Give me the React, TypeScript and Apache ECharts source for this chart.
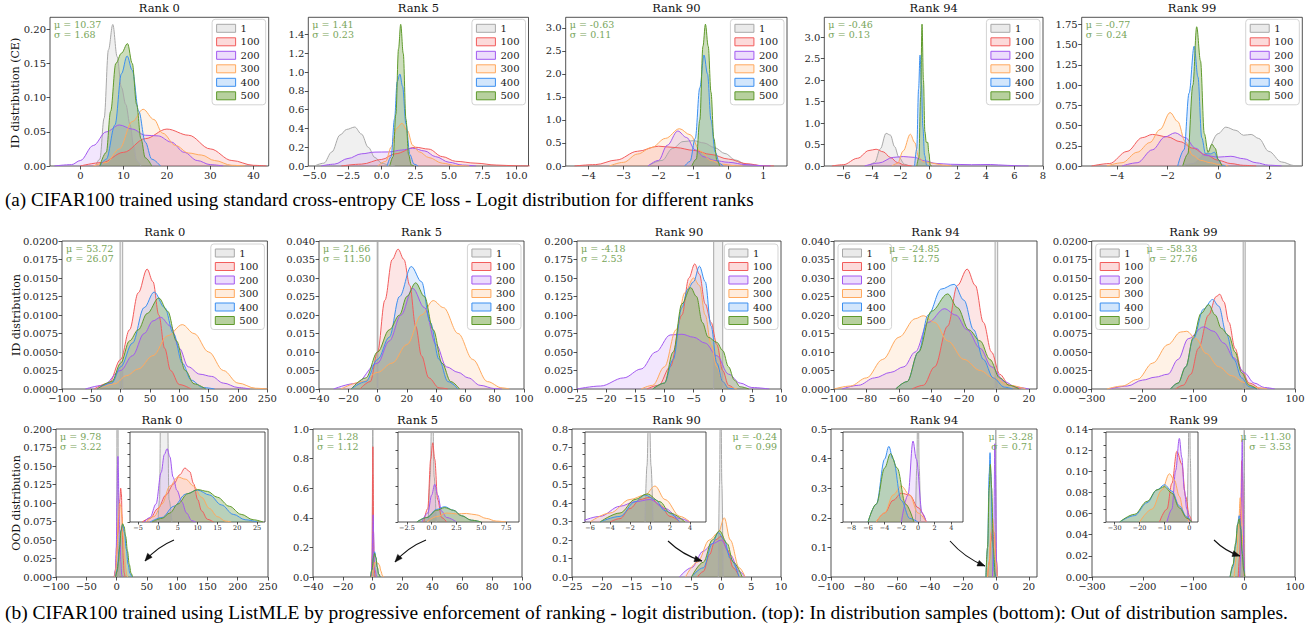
import React, { useEffect, useRef } from 'react';
import * as echarts from 'echarts';

type P = [number, number];

const NAMES = ['1', '100', '200', '300', '400', '500'];
const TITLES = ['Rank 0', 'Rank 5', 'Rank 90', 'Rank 94', 'Rank 99'];

// ---------- (a) CE, ID logits ----------
const CE_RANK0: P[][] = [
  [[3.5, 0], [4.5, 0.01], [5.5, 0.07], [6.5, 0.17], [7.5, 0.207], [8.5, 0.16], [9.5, 0.115], [10.5, 0.09], [11.5, 0.06], [12.3, 0.03], [13, 0.008], [14, 0]],
  [[0, 0], [5, 0.005], [10, 0.02], [15, 0.04], [20, 0.054], [25, 0.045], [30, 0.025], [35, 0.008], [40, 0.001], [43, 0]],
  [[-6, 0], [-2, 0.002], [0, 0.008], [3, 0.03], [6, 0.05], [9, 0.06], [12, 0.054], [15, 0.045], [18, 0.044], [21, 0.035], [24, 0.02], [27, 0.008], [30, 0.002], [33, 0]],
  [[3, 0], [6, 0.005], [9, 0.025], [12, 0.065], [14.5, 0.083], [17, 0.068], [19, 0.048], [22, 0.03], [25, 0.019], [28, 0.016], [31, 0.008], [35, 0.001], [38, 0]],
  [[4.5, 0], [6, 0.01], [8, 0.06], [9.5, 0.135], [10.8, 0.161], [12, 0.14], [13.5, 0.08], [15, 0.035], [16.5, 0.01], [18.5, 0]],
  [[4.5, 0], [6, 0.02], [7, 0.08], [8.2, 0.15], [9.5, 0.165], [10.9, 0.179], [12, 0.15], [13, 0.09], [14, 0.04], [15, 0.012], [16.5, 0]],
];
const CE_RANK5: P[][] = [
  [[-5, 0], [-4.3, 0.03], [-3.7, 0.15], [-3.1, 0.33], [-2.6, 0.39], [-2.0, 0.415], [-1.5, 0.34], [-1.0, 0.2], [-0.5, 0.09], [0, 0.03], [0.6, 0.005], [1, 0]],
  [[-3, 0], [-1.5, 0.02], [0, 0.07], [1, 0.13], [2.5, 0.2], [3.5, 0.18], [4.5, 0.1], [5.5, 0.05], [7, 0.03], [8.5, 0.01], [10, 0.002], [11, 0]],
  [[-4.5, 0], [-3.5, 0.02], [-2.5, 0.08], [-1.5, 0.13], [-0.5, 0.148], [0.5, 0.15], [1.5, 0.17], [2.3, 0.19], [3.2, 0.16], [4, 0.1], [5, 0.04], [6, 0.01], [7, 0]],
  [[-0.3, 0], [0.3, 0.05], [0.7, 0.2], [1.1, 0.4], [1.5, 0.455], [1.9, 0.38], [2.3, 0.22], [2.8, 0.15], [3.5, 0.09], [4.5, 0.03], [5.5, 0.005], [6.5, 0]],
  [[0.4, 0], [0.7, 0.1], [0.95, 0.5], [1.15, 0.9], [1.35, 0.98], [1.55, 0.85], [1.8, 0.45], [2.1, 0.12], [2.4, 0.02], [2.7, 0]],
  [[0.6, 0], [0.85, 0.1], [1.05, 0.55], [1.25, 1.25], [1.41, 1.51], [1.6, 1.2], [1.8, 0.5], [2.0, 0.12], [2.2, 0.01], [2.4, 0]],
];
const CE_RANK90: P[][] = [
  [[-2.3, 0], [-1.9, 0.12], [-1.6, 0.38], [-1.3, 0.53], [-1.0, 0.55], [-0.7, 0.5], [-0.4, 0.4], [-0.1, 0.27], [0.2, 0.13], [0.5, 0.04], [0.9, 0]],
  [[-4.4, 0], [-3.8, 0.03], [-3.2, 0.13], [-2.6, 0.32], [-2.0, 0.43], [-1.5, 0.4], [-1.0, 0.34], [-0.5, 0.25], [0, 0.15], [0.5, 0.05], [1.0, 0.005], [1.3, 0]],
  [[-2.3, 0], [-2.0, 0.12], [-1.75, 0.45], [-1.45, 0.76], [-1.2, 0.62], [-0.95, 0.35], [-0.7, 0.2], [-0.4, 0.12], [0, 0.08], [0.5, 0.03], [1.0, 0.003], [1.2, 0]],
  [[-3.4, 0], [-3.0, 0.08], [-2.6, 0.26], [-2.2, 0.4], [-1.8, 0.6], [-1.4, 0.81], [-1.1, 0.68], [-0.8, 0.32], [-0.5, 0.12], [-0.2, 0.04], [0.2, 0.005], [0.4, 0]],
  [[-1.25, 0], [-1.1, 0.1], [-0.95, 0.6], [-0.82, 1.7], [-0.7, 2.41], [-0.6, 2.0], [-0.5, 1.0], [-0.38, 0.3], [-0.25, 0.05], [-0.15, 0]],
  [[-1.05, 0], [-0.92, 0.15], [-0.82, 1.0], [-0.73, 2.6], [-0.66, 3.08], [-0.58, 2.6], [-0.5, 1.6], [-0.42, 0.6], [-0.33, 0.12], [-0.25, 0]],
];
const CE_RANK94: P[][] = [
  [[-4.2, 0], [-3.8, 0.08], [-3.4, 0.4], [-3.0, 0.76], [-2.7, 0.72], [-2.4, 0.45], [-2.1, 0.2], [-1.7, 0.04], [-1.4, 0]],
  [[-6.8, 0], [-6, 0.03], [-5, 0.18], [-4.2, 0.36], [-3.7, 0.39], [-3.2, 0.33], [-2.7, 0.2], [-2.2, 0.08], [-1.7, 0.02], [-1.2, 0]],
  [[-4.5, 0], [-3.5, 0.07], [-2.5, 0.2], [-1.8, 0.22], [-1.0, 0.2], [-0.3, 0.12], [0.5, 0.06], [1.5, 0.04], [3, 0.03], [4.3, 0.035], [5.5, 0.015], [6.5, 0.002], [7, 0]],
  [[-2.6, 0], [-2.2, 0.06], [-1.8, 0.35], [-1.3, 0.74], [-1.0, 0.55], [-0.7, 0.2], [-0.4, 0.1], [0, 0.08], [0.5, 0.05], [1, 0.02], [1.6, 0]],
  [[-1.0, 0], [-0.85, 0.4], [-0.72, 1.8], [-0.62, 2.58], [-0.52, 1.9], [-0.42, 0.9], [-0.3, 0.25], [-0.15, 0.02], [0, 0]],
  [[-0.85, 0], [-0.7, 0.2], [-0.58, 1.6], [-0.48, 3.3], [-0.38, 2.0], [-0.28, 0.8], [-0.18, 0.55], [-0.08, 0.55], [0.0, 0.3], [0.1, 0.02], [0.2, 0]],
];
const CE_RANK99: P[][] = [
  [[-1.5, 0], [-1.0, 0.03], [-0.5, 0.15], [0, 0.4], [0.3, 0.48], [0.7, 0.44], [1.0, 0.38], [1.3, 0.39], [1.6, 0.34], [2.0, 0.18], [2.5, 0.05], [3.0, 0.005], [3.3, 0]],
  [[-5, 0], [-4.3, 0.03], [-3.6, 0.18], [-3.0, 0.35], [-2.6, 0.39], [-2.0, 0.36], [-1.5, 0.3], [-1.0, 0.22], [-0.5, 0.14], [0, 0.07], [0.5, 0.03], [1.0, 0.008], [1.5, 0]],
  [[-3.8, 0], [-3.2, 0.04], [-2.6, 0.2], [-2.1, 0.36], [-1.7, 0.41], [-1.3, 0.35], [-0.9, 0.22], [-0.5, 0.13], [0, 0.11], [0.5, 0.12], [1.0, 0.09], [1.5, 0.04], [2.0, 0.01], [2.5, 0]],
  [[-4.4, 0], [-3.8, 0.04], [-3.2, 0.17], [-2.7, 0.29], [-2.3, 0.45], [-1.9, 0.66], [-1.6, 0.55], [-1.3, 0.3], [-1.0, 0.13], [-0.7, 0.07], [-0.3, 0.04], [0, 0.02], [0.4, 0]],
  [[-1.6, 0], [-1.35, 0.2], [-1.15, 0.9], [-0.95, 1.48], [-0.8, 1.1], [-0.65, 0.35], [-0.5, 0.15], [-0.3, 0.15], [-0.15, 0.17], [0, 0.08], [0.15, 0.01], [0.3, 0]],
  [[-1.4, 0], [-1.2, 0.15], [-1.0, 1.0], [-0.85, 1.72], [-0.7, 1.3], [-0.55, 0.4], [-0.4, 0.17], [-0.25, 0.27], [-0.12, 0.22], [0, 0.08], [0.15, 0]],
];
const CE_MU = ['10.37', '1.41', '-0.63', '-0.46', '-0.77'];
const CE_SIGMA = ['1.68', '0.23', '0.11', '0.13', '0.24'];
const CE_X_RANGE: P[] = [[-7, 43.5], [-5.45, 10.9], [-4.65, 1.67], [-7.33, 8.0], [-5.39, 3.32]];
const CE_Y_MAX = [0.2175, 1.585, 3.23, 3.46, 1.837];
const CE_X_TICKS = [[0, 10, 20, 30, 40], [-5, -2.5, 0, 2.5, 5, 7.5, 10], [-4, -3, -2, -1, 0, 1], [-6, -4, -2, 0, 2, 4, 6, 8], [-4, -2, 0, 2]];
const CE_Y_TICKS = [
  [0, 0.05, 0.1, 0.15, 0.2],
  [0, 0.2, 0.4, 0.6, 0.8, 1.0, 1.2, 1.4],
  [0, 0.5, 1.0, 1.5, 2.0, 2.5, 3.0],
  [0, 0.5, 1.0, 1.5, 2.0, 2.5, 3.0],
  [0, 0.25, 0.5, 0.75, 1.0, 1.25, 1.5, 1.75],
];
const CE_X_DEC = [0, 1, 0, 0, 0];
const CE_Y_DEC = [2, 1, 1, 1, 2];

// ---------- (b top) ListMLE, ID logits ----------
const ID_RANK0: P[][] = [
  [[-1, 0], [-1, 1], [3.4, 1], [3.4, 0]],
  [[-45, 0], [-20, 0.0008], [0, 0.004], [15, 0.008], [30, 0.013], [45, 0.0162], [55, 0.0145], [65, 0.01], [75, 0.0055], [85, 0.0025], [100, 0.0006], [120, 0]],
  [[-60, 0], [-30, 0.0005], [0, 0.0025], [20, 0.0045], [40, 0.0075], [55, 0.0092], [68, 0.0097], [85, 0.0085], [100, 0.0055], [115, 0.003], [135, 0.002], [155, 0.0017], [175, 0.0008], [200, 0.0002], [220, 0]],
  [[-40, 0], [-10, 0.0007], [10, 0.0018], [30, 0.0027], [55, 0.0045], [80, 0.0072], [105, 0.0087], [125, 0.0075], [150, 0.005], [175, 0.0025], [200, 0.0008], [230, 0.0001], [250, 0]],
  [[-40, 0], [-15, 0.0008], [0, 0.003], [20, 0.0062], [40, 0.011], [57, 0.0131], [75, 0.011], [90, 0.0075], [105, 0.0035], [120, 0.0012], [140, 0.0002], [160, 0]],
  [[-40, 0], [-15, 0.001], [0, 0.0035], [15, 0.0065], [30, 0.008], [45, 0.0102], [65, 0.0123], [80, 0.0105], [95, 0.0065], [110, 0.0025], [125, 0.0007], [145, 0]],
];
const ID_RANK5: P[][] = [
  [[-0.25, 0], [-0.25, 1], [0.25, 1], [0.25, 0]],
  [[-12, 0], [-5, 0.002], [0, 0.01], [5, 0.024], [10, 0.035], [14, 0.0378], [18, 0.035], [22, 0.028], [26, 0.017], [30, 0.009], [35, 0.003], [42, 0.0003], [48, 0]],
  [[-30, 0], [-15, 0.0015], [0, 0.007], [8, 0.013], [16, 0.02], [24, 0.0272], [32, 0.022], [40, 0.012], [47, 0.006], [55, 0.0045], [62, 0.003], [70, 0.001], [80, 0.0001], [85, 0]],
  [[-25, 0], [-10, 0.002], [0, 0.0045], [10, 0.007], [20, 0.012], [30, 0.02], [38, 0.0239], [45, 0.022], [55, 0.015], [65, 0.008], [75, 0.002], [85, 0.0003], [90, 0]],
  [[-18, 0], [-8, 0.002], [0, 0.008], [8, 0.014], [15, 0.025], [23, 0.0331], [30, 0.029], [36, 0.018], [42, 0.008], [48, 0.002], [55, 0]],
  [[-18, 0], [-8, 0.003], [0, 0.01], [8, 0.016], [15, 0.02], [20, 0.025], [26, 0.0287], [32, 0.025], [38, 0.016], [44, 0.007], [50, 0.002], [56, 0]],
];
const ID_RANK90: P[][] = [
  [[-1.55, 0], [-1.55, 1], [0, 1], [0, 0]],
  [[-13, 0], [-11, 0.005], [-9, 0.03], [-7, 0.1], [-5.8, 0.15], [-4.8, 0.169], [-4, 0.155], [-3, 0.115], [-2, 0.09], [-1, 0.06], [0, 0.025], [1, 0.005], [2, 0]],
  [[-25, 0], [-21, 0.004], [-17, 0.015], [-14, 0.027], [-11.5, 0.05], [-9, 0.073], [-7, 0.074], [-5, 0.07], [-3, 0.062], [-1, 0.045], [1, 0.02], [3, 0.008], [5, 0.002], [8, 0]],
  [[-14, 0], [-12, 0.005], [-10, 0.03], [-8, 0.08], [-6.5, 0.13], [-5, 0.15], [-4, 0.14], [-3, 0.1], [-2, 0.06], [-1, 0.03], [0, 0.01], [1, 0.002], [2.5, 0]],
  [[-12, 0], [-10, 0.008], [-8.5, 0.04], [-7, 0.11], [-6, 0.135], [-5, 0.145], [-4, 0.166], [-3, 0.145], [-2, 0.085], [-1, 0.035], [0, 0.01], [1, 0.001], [2, 0]],
  [[-12, 0], [-10, 0.008], [-8.5, 0.05], [-7, 0.115], [-5.5, 0.137], [-4.5, 0.125], [-3.5, 0.09], [-2.5, 0.07], [-1, 0.063], [0, 0.052], [1, 0.03], [2, 0.012], [3, 0.003], [4.5, 0]],
];
const ID_RANK94: P[][] = [
  [[-0.8, 0], [-0.8, 1], [0.8, 1], [0.8, 0]],
  [[-52, 0], [-45, 0.001], [-38, 0.006], [-30, 0.017], [-24, 0.028], [-18, 0.0324], [-13, 0.028], [-8, 0.018], [-3, 0.01], [2, 0.004], [8, 0.001], [15, 0]],
  [[-95, 0], [-85, 0.001], [-75, 0.003], [-65, 0.0045], [-57, 0.006], [-50, 0.01], [-42, 0.018], [-32, 0.0217], [-25, 0.02], [-18, 0.016], [-10, 0.011], [-3, 0.006], [5, 0.002], [12, 0.0005], [20, 0]],
  [[-100, 0], [-90, 0.0008], [-80, 0.003], [-70, 0.008], [-60, 0.014], [-50, 0.019], [-45, 0.0198], [-38, 0.018], [-30, 0.013], [-20, 0.008], [-10, 0.005], [-2, 0.003], [8, 0.001], [18, 0]],
  [[-62, 0], [-55, 0.002], [-48, 0.01], [-42, 0.02], [-34, 0.027], [-26, 0.0283], [-20, 0.024], [-14, 0.016], [-8, 0.008], [-2, 0.003], [5, 0.0005], [10, 0]],
  [[-62, 0], [-55, 0.002], [-48, 0.01], [-40, 0.021], [-30, 0.0257], [-24, 0.022], [-17, 0.016], [-10, 0.013], [-4, 0.008], [2, 0.003], [8, 0.001], [14, 0]],
];
const ID_RANK99: P[][] = [
  [[-2, 0], [-2, 1], [2, 1], [2, 0]],
  [[-135, 0], [-120, 0.0005], [-105, 0.002], [-90, 0.0055], [-70, 0.01], [-55, 0.0125], [-48, 0.0128], [-40, 0.0118], [-30, 0.009], [-18, 0.0055], [-5, 0.0025], [10, 0.0008], [30, 0]],
  [[-265, 0], [-230, 0.0004], [-200, 0.0012], [-175, 0.0016], [-150, 0.002], [-130, 0.004], [-110, 0.0068], [-80, 0.0084], [-60, 0.0078], [-40, 0.0062], [-20, 0.0042], [0, 0.0022], [20, 0.0008], [40, 0.0002], [60, 0]],
  [[-270, 0], [-240, 0.0004], [-210, 0.0013], [-180, 0.0035], [-150, 0.006], [-125, 0.0077], [-113, 0.0078], [-95, 0.0068], [-75, 0.0048], [-50, 0.003], [-25, 0.0018], [0, 0.0009], [25, 0.0002], [45, 0]],
  [[-145, 0], [-130, 0.0008], [-115, 0.003], [-100, 0.0068], [-80, 0.0108], [-62, 0.0121], [-50, 0.0112], [-35, 0.0075], [-20, 0.004], [-5, 0.0015], [10, 0.0003], [25, 0]],
  [[-145, 0], [-130, 0.0008], [-115, 0.003], [-100, 0.007], [-85, 0.0102], [-70, 0.0114], [-57, 0.01], [-45, 0.0082], [-30, 0.0072], [-18, 0.005], [-5, 0.0022], [10, 0.0005], [25, 0]],
];
const ID_MU = ['53.72', '21.66', '-4.18', '-24.85', '-58.33'];
const ID_SIGMA = ['26.07', '11.50', '2.53', '12.75', '27.76'];
const ID_X_RANGE: P[] = [[-100, 250], [-40, 100], [-25, 10], [-100, 25], [-300, 100]];
const ID_Y_MAX = [0.02, 0.04, 0.2, 0.04, 0.02];
const ID_X_TICKS = [
  [-100, -50, 0, 50, 100, 150, 200, 250],
  [-40, -20, 0, 20, 40, 60, 80, 100],
  [-25, -20, -15, -10, -5, 0, 5, 10],
  [-100, -80, -60, -40, -20, 0, 20],
  [-300, -200, -100, 0, 100],
];
const ID_Y_TICKS = [
  [0, 0.0025, 0.005, 0.0075, 0.01, 0.0125, 0.015, 0.0175, 0.02],
  [0, 0.005, 0.01, 0.015, 0.02, 0.025, 0.03, 0.035, 0.04],
  [0, 0.025, 0.05, 0.075, 0.1, 0.125, 0.15, 0.175, 0.2],
  [0, 0.005, 0.01, 0.015, 0.02, 0.025, 0.03, 0.035, 0.04],
  [0, 0.0025, 0.005, 0.0075, 0.01, 0.0125, 0.015, 0.0175, 0.02],
];
const ID_Y_DEC = [4, 3, 3, 3, 4];

// ---------- (b bottom) ListMLE, OOD logits ----------
const OOD_RANK0: P[][] = [
  [[0, 0], [0.4, 0.05], [0.7, 0.3], [2.3, 0.3], [2.8, 0.05], [3.5, 0]],
  [[-4, 0], [-2, 0.008], [0, 0.03], [2, 0.06], [4, 0.085], [5.5, 0.105], [6.8, 0.12], [8, 0.112], [9, 0.085], [10, 0.05], [11, 0.025], [12.5, 0.006], [14, 0]],
  [[-3.5, 0], [-2, 0.01], [-0.5, 0.04], [0.8, 0.11], [1.6, 0.15], [2.3, 0.163], [3.0, 0.145], [3.8, 0.1], [4.8, 0.07], [6, 0.045], [7.2, 0.02], [8.5, 0.003], [9.5, 0]],
  [[-3, 0], [-1, 0.012], [1, 0.04], [3, 0.08], [5, 0.1], [7, 0.095], [9, 0.08], [11, 0.055], [13, 0.03], [15, 0.012], [17, 0.002], [18.5, 0]],
  [[-2, 0], [1, 0.01], [4, 0.035], [7, 0.062], [10, 0.071], [13, 0.06], [16, 0.038], [19, 0.017], [22, 0.005], [25, 0]],
  [[-1.5, 0], [1, 0.008], [3, 0.02], [5, 0.04], [7.5, 0.063], [10, 0.072], [12.5, 0.068], [15, 0.055], [18, 0.035], [21, 0.017], [24, 0.005], [26.5, 0]],
];
const OOD_RANK5: P[][] = [
  [[-0.35, 0], [-0.15, 0.5], [0.05, 1.6], [0.25, 0.5], [0.45, 0]],
  [[-0.8, 0], [-0.4, 0.15], [-0.1, 0.7], [0.1, 0.88], [0.3, 0.7], [0.6, 0.25], [1, 0.05], [1.5, 0]],
  [[-1, 0], [-0.4, 0.1], [0, 0.3], [0.3, 0.42], [0.6, 0.3], [1.0, 0.12], [1.5, 0.05], [2.5, 0]],
  [[-0.5, 0], [0.5, 0.06], [1.5, 0.1], [2.5, 0.09], [3.5, 0.095], [4.5, 0.08], [5.5, 0.04], [6.5, 0.01], [7.5, 0]],
  [[-1.5, 0], [-0.5, 0.05], [0.5, 0.14], [1.3, 0.17], [2.2, 0.13], [3, 0.07], [4, 0.02], [5, 0]],
  [[-1.5, 0], [-0.5, 0.05], [0.5, 0.13], [1.3, 0.16], [2.2, 0.13], [3, 0.07], [4, 0.02], [5, 0]],
];
const OOD_RANK90: P[][] = [
  [[-0.5, 0], [-0.3, 0.5], [-0.1, 1.2], [0.1, 0.5], [0.3, 0]],
  [[-4, 0], [-3, 0.03], [-2, 0.12], [-1, 0.2], [0, 0.22], [1, 0.15], [2, 0.05], [3, 0]],
  [[-7, 0], [-5, 0.05], [-3, 0.14], [-1.5, 0.18], [0, 0.2], [1.5, 0.12], [3, 0.03], [4, 0]],
  [[-6, 0], [-4, 0.08], [-2, 0.2], [-0.5, 0.24], [0.5, 0.32], [1.5, 0.2], [3, 0.05], [4, 0]],
  [[-5, 0], [-3, 0.05], [-1.5, 0.18], [-0.5, 0.24], [0.5, 0.2], [1.5, 0.1], [3, 0]],
  [[-5, 0], [-3, 0.08], [-1.5, 0.2], [-0.3, 0.25], [1, 0.18], [2, 0.08], [3.5, 0]],
];
const OOD_RANK94: P[][] = [
  [[-0.3, 0], [-0.15, 0.3], [0, 0.8], [0.15, 0.3], [0.3, 0]],
  [[-5, 0], [-4, 0.05], [-3, 0.12], [-2, 0.16], [-1, 0.15], [0, 0.08], [1, 0]],
  [[-2, 0], [-1.2, 0.15], [-0.6, 0.45], [-0.2, 0.35], [0.5, 0.05], [1, 0]],
  [[-5, 0], [-4, 0.05], [-3, 0.15], [-2, 0.2], [-1, 0.15], [0, 0.05], [1, 0]],
  [[-6, 0], [-5, 0.1], [-4, 0.35], [-3.5, 0.42], [-3, 0.35], [-2, 0.12], [-1, 0.02], [0, 0]],
  [[-6, 0], [-5, 0.1], [-4, 0.3], [-3.3, 0.38], [-2.5, 0.3], [-1.5, 0.1], [-0.5, 0]],
];
const OOD_RANK99: P[][] = [
  [[-0.8, 0], [-0.4, 0.1], [0, 0.3], [0.4, 0.1], [0.8, 0]],
  [[-12, 0], [-9, 0.02], [-7, 0.06], [-5, 0.11], [-3, 0.09], [-1.5, 0.04], [0, 0.01], [1, 0]],
  [[-9, 0], [-7, 0.02], [-5.5, 0.08], [-4, 0.13], [-3, 0.1], [-2, 0.05], [-1, 0.02], [0, 0]],
  [[-20, 0], [-15, 0.02], [-11, 0.05], [-8, 0.075], [-6, 0.065], [-4, 0.04], [-2, 0.01], [0, 0]],
  [[-28, 0], [-22, 0.01], [-17, 0.03], [-13, 0.05], [-10, 0.058], [-7, 0.048], [-4, 0.025], [-1, 0.008], [1, 0]],
  [[-28, 0], [-22, 0.012], [-17, 0.032], [-13, 0.05], [-10, 0.055], [-7, 0.045], [-4, 0.022], [-1, 0.006], [1, 0]],
];
const OOD_MU = ['9.78', '1.28', '-0.24', '-3.28', '-11.30'];
const OOD_SIGMA = ['3.22', '1.12', '0.99', '0.71', '3.53'];
const OOD_X_RANGE: P[] = [[-100, 250], [-40, 100], [-25, 10], [-100, 25], [-300, 100]];
const OOD_Y_MAX = [0.2, 1.0, 0.8, 0.5, 0.14];
const OOD_Y_TICKS = [
  [0, 0.025, 0.05, 0.075, 0.1, 0.125, 0.15, 0.175, 0.2],
  [0, 0.2, 0.4, 0.6, 0.8, 1.0],
  [0, 0.1, 0.2, 0.3, 0.4, 0.5, 0.6, 0.7, 0.8],
  [0, 0.1, 0.2, 0.3, 0.4, 0.5],
  [0, 0.02, 0.04, 0.06, 0.08, 0.1, 0.12, 0.14],
];
const OOD_Y_DEC = [3, 1, 1, 1, 2];
const INSET_X_RANGE: P[] = [[-7.06, 27], [-3.4, 8.8], [-6.5, 5.6], [-9, 5.4], [-33.5, 3.5]];
const INSET_X_TICKS = [[-5, 0, 5, 10, 15, 20, 25], [-2.5, 0, 2.5, 5, 7.5], [-6, -4, -2, 0, 2, 4], [-8, -6, -4, -2, 0, 2, 4], [-30, -20, -10, 0]];
const INSET_X_DEC = [0, 1, 0, 0, 0];

// ---------- styles / layout ----------
const LINE = ['#a8a8a8', '#f25c5c', '#a259f0', '#ffa95e', '#3b8ff0', '#5f9a2c'];
const FILL = ['rgba(170,170,170,0.25)', 'rgba(240,70,70,0.2)', 'rgba(160,80,240,0.2)', 'rgba(255,160,80,0.2)', 'rgba(50,140,240,0.22)', 'rgba(95,150,40,0.45)'];
const FONT = '"DejaVu Serif", serif';
const CAP_FONT = '"Liberation Serif", "Times New Roman", serif';
const AX = '#262626';
const MU_COLOR = '#78a55a';

const CE_BOX = { lefts: [50, 308.3, 565.7, 824.3, 1081.7], rights: [268.7, 528.5, 787, 1043, 1302.3], top: 17.3, bottom: 166 };
const ID_BOX = { lefts: [62, 319, 577, 834, 1091.7], rights: [267.4, 524, 781, 1037, 1295], top: 241, bottom: 389 };
const OOD_BOX = { lefts: [56, 313, 572, 831, 1092], rights: [268, 522, 781, 1037, 1295], top: 429, bottom: 577 };
const INSET_BOX: [number, number, number, number][] = [
  [130, 432, 265, 522], [398, 432, 519, 522], [585, 432, 706, 522], [843, 432, 963, 522], [1106, 432, 1198, 522],
];
const ARROWS: [number, number, number, number][] = [
  [174, 540, 145, 561], [426, 540, 395, 562], [668, 541, 702, 561], [950, 541, 985, 566], [1214, 540, 1240, 556],
];

interface Panel {
  curves: P[][];
  box: [number, number, number, number];
  xr: P;
  yMax: number;
  xt: number[];
  yt: number[];
  xd: number;
  yd: number;
  fs: number;
  inset?: boolean;
}

function fmt(v: number, d: number): string {
  const s = v.toFixed(d);
  return s.replace('-', '\u2212');
}

function buildOption() {
  const panels: Panel[] = [];
  const ceCurves = [CE_RANK0, CE_RANK5, CE_RANK90, CE_RANK94, CE_RANK99];
  const idCurves = [ID_RANK0, ID_RANK5, ID_RANK90, ID_RANK94, ID_RANK99];
  const oodCurves = [OOD_RANK0, OOD_RANK5, OOD_RANK90, OOD_RANK94, OOD_RANK99];
  for (let i = 0; i < 5; i++) {
    panels.push({
      curves: ceCurves[i], box: [CE_BOX.lefts[i], CE_BOX.top, CE_BOX.rights[i], CE_BOX.bottom],
      xr: CE_X_RANGE[i], yMax: CE_Y_MAX[i], xt: CE_X_TICKS[i], yt: CE_Y_TICKS[i], xd: CE_X_DEC[i], yd: CE_Y_DEC[i], fs: 10,
    });
  }
  for (let i = 0; i < 5; i++) {
    panels.push({
      curves: idCurves[i], box: [ID_BOX.lefts[i], ID_BOX.top, ID_BOX.rights[i], ID_BOX.bottom],
      xr: ID_X_RANGE[i], yMax: ID_Y_MAX[i], xt: ID_X_TICKS[i], yt: ID_Y_TICKS[i], xd: 0, yd: ID_Y_DEC[i], fs: 10,
    });
  }
  for (let i = 0; i < 5; i++) {
    panels.push({
      curves: oodCurves[i], box: [OOD_BOX.lefts[i], OOD_BOX.top, OOD_BOX.rights[i], OOD_BOX.bottom],
      xr: OOD_X_RANGE[i], yMax: OOD_Y_MAX[i], xt: ID_X_TICKS[i], yt: OOD_Y_TICKS[i], xd: 0, yd: OOD_Y_DEC[i], fs: 10,
    });
  }
  for (let i = 0; i < 5; i++) {
    panels.push({
      curves: oodCurves[i], box: INSET_BOX[i],
      xr: INSET_X_RANGE[i], yMax: OOD_Y_MAX[i], xt: INSET_X_TICKS[i], yt: OOD_Y_TICKS[i], xd: INSET_X_DEC[i], yd: 0, fs: 6.5, inset: true,
    });
  }

  const grid: any[] = [];
  const xAxis: any[] = [];
  const yAxis: any[] = [];
  const series: any[] = [];

  panels.forEach((p, gi) => {
    const [l, t, r, b] = p.box;
    grid.push({
      left: l, top: t, width: r - l, height: b - t, show: true,
      borderColor: AX, borderWidth: 0.8, backgroundColor: p.inset ? '#ffffff' : 'transparent',
      containLabel: false, outerBoundsMode: 'none', z: p.inset ? 5 : 0,
    });
    xAxis.push({
      type: 'value', gridIndex: gi, min: p.xr[0], max: p.xr[1], z: p.inset ? 7 : 1, position: 'bottom',
      axisLine: { show: false, onZero: false }, splitLine: { show: false },
      axisTick: { show: true, inside: false, length: p.inset ? 2.5 : 3.5, lineStyle: { color: AX, width: 0.8 }, customValues: p.xt },
      axisLabel: {
        show: true, customValues: p.xt, margin: p.inset ? 2.5 : 4, fontFamily: FONT, fontSize: p.fs, color: AX,
        formatter: (v: number) => fmt(v, p.xd),
      },
    });
    yAxis.push({
      type: 'value', gridIndex: gi, min: 0, max: p.yMax, z: p.inset ? 7 : 1, position: 'left',
      axisLine: { show: false, onZero: false }, splitLine: { show: false },
      axisTick: { show: true, inside: false, length: p.inset ? 2.5 : 3.5, lineStyle: { color: AX, width: 0.8 }, customValues: p.yt },
      axisLabel: {
        show: !p.inset, customValues: p.yt, margin: 4, fontFamily: FONT, fontSize: p.fs, color: AX,
        formatter: (v: number) => fmt(v, p.yd),
      },
    });
    p.curves.forEach((pts, si) => {
      let spike = false;
      for (let k = 1; k < pts.length; k++) if (pts[k][0] === pts[k - 1][0]) spike = true;
      series.push({
        type: 'line', name: NAMES[si], xAxisIndex: gi, yAxisIndex: gi, data: pts,
        symbol: 'none', showSymbol: false, smooth: spike ? false : 0.35, smoothMonotone: 'x',
        lineStyle: { color: LINE[si], width: 1 }, itemStyle: { color: LINE[si] },
        areaStyle: { color: FILL[si] }, clip: true, silent: true, z: p.inset ? 6 : 2,
        emphasis: { disabled: true },
      });
    });
  });

  const legendData = NAMES.map((n, i) => ({ name: n, itemStyle: { color: FILL[i], borderColor: LINE[i], borderWidth: 1 } }));
  const mkLegend = (pos: any) => ({
    ...pos, orient: 'vertical', icon: 'rect', itemWidth: 19, itemHeight: 8, itemGap: 3.5,
    padding: [4, 6, 4, 4], backgroundColor: 'rgba(255,255,255,0.85)', borderColor: '#d4d4d4', borderWidth: 1, borderRadius: 3,
    textStyle: { fontFamily: FONT, fontSize: 10, color: '#1a1a1a' }, selectedMode: false, data: legendData, z: 10,
  });
  const legend: any[] = [];
  for (let i = 0; i < 5; i++) legend.push(mkLegend({ right: 1310 - (CE_BOX.rights[i] - 3), top: CE_BOX.top + 2 }));
  for (let i = 0; i < 3; i++) legend.push(mkLegend({ right: 1310 - (ID_BOX.rights[i] - 3), top: ID_BOX.top + 3 }));
  for (let i = 3; i < 5; i++) legend.push(mkLegend({ left: ID_BOX.lefts[i] + 4, top: ID_BOX.top + 3 }));

  const graphic: any[] = [];
  const txt = (x: number, y: number, text: string, size: number, opts: any = {}) => ({
    type: 'text', x, y, rotation: opts.rotation || 0, silent: true, z: 20,
    style: {
      text, fontFamily: opts.family || FONT, fontSize: size, fill: opts.color || '#111',
      align: opts.align || 'center', verticalAlign: 'middle', textAlign: opts.align || 'center', textVerticalAlign: 'middle',
    },
  });
  const boxes = [CE_BOX, ID_BOX, OOD_BOX];
  boxes.forEach((bx) => {
    for (let i = 0; i < 5; i++) {
      const cx = (bx.lefts[i] + bx.rights[i]) / 2;
      graphic.push(txt(cx, bx.top - 9, TITLES[i], 11.5));
    }
  });
  graphic.push(txt(15, 93, 'ID distribution (CE)', 11, { rotation: Math.PI / 2 }));
  graphic.push(txt(16, 315, 'ID distribution', 11, { rotation: Math.PI / 2 }));
  graphic.push(txt(16, 503, 'OOD distribution', 11, { rotation: Math.PI / 2 }));

  const muRow = (bx: any, mus: string[], sig: string[], modes: ('l' | 'r' | 'c')[]) => {
    for (let i = 0; i < 5; i++) {
      const m = modes[i];
      let x = bx.lefts[i] + 4;
      let align = 'left';
      if (m === 'r') { x = bx.rights[i] - 4; align = 'right'; }
      if (m === 'c') { x = bx.lefts[i] + 105.5; align = 'right'; }
      graphic.push(txt(x, bx.top + 7.6, '\u03bc = ' + mus[i], 9.5, { align, color: MU_COLOR }));
      graphic.push(txt(x, bx.top + 17.2, '\u03c3 = ' + sig[i], 9.5, { align, color: MU_COLOR }));
    }
  };
  muRow(CE_BOX, CE_MU, CE_SIGMA, ['l', 'l', 'l', 'l', 'l']);
  muRow(ID_BOX, ID_MU, ID_SIGMA, ['l', 'l', 'l', 'c', 'c']);
  muRow(OOD_BOX, OOD_MU, OOD_SIGMA, ['l', 'l', 'r', 'r', 'r']);

  ARROWS.forEach(([x1, y1, x2, y2]) => {
    const mx = (x1 + x2) / 2, my = (y1 + y2) / 2;
    const dx = x2 - x1, dy = y2 - y1;
    const len = Math.hypot(dx, dy);
    const cpx = mx + (-dy / len) * len * 0.12;
    const cpy = my + (dx / len) * len * 0.12;
    graphic.push({
      type: 'bezierCurve', silent: true, z: 20,
      shape: { x1, y1, x2, y2, cpx1: cpx, cpy1: cpy },
      style: { stroke: '#111', lineWidth: 1.1, fill: null },
    });
    let ux = x2 - cpx, uy = y2 - cpy;
    const ul = Math.hypot(ux, uy);
    ux /= ul; uy /= ul;
    const bx = x2 - ux * 7.5, by = y2 - uy * 7.5;
    graphic.push({
      type: 'polygon', silent: true, z: 21,
      shape: { points: [[x2, y2], [bx - uy * 3, by + ux * 3], [bx + uy * 3, by - ux * 3]] },
      style: { fill: '#111', stroke: '#111', lineWidth: 0.5 },
    });
  });

  graphic.push(txt(5, 199, '(a) CIFAR100 trained using standard cross-entropy CE loss - Logit distribution for different ranks', 19.1,
    { align: 'left', family: CAP_FONT, color: '#000' }));
  graphic.push(txt(5, 612, '(b) CIFAR100 trained using ListMLE by progressive enforcement of ranking - logit distribution. (top): In distribution samples (bottom): Out of distribution samples.', 19.45,
    { align: 'left', family: CAP_FONT, color: '#000' }));

  return {
    animation: false,
    backgroundColor: '#ffffff',
    grid, xAxis, yAxis, series, legend, graphic,
  };
}

export default function App() {
  const ref = useRef<HTMLDivElement>(null);
  useEffect(() => {
    if (!ref.current) return;
    const chart = echarts.init(ref.current, undefined, { renderer: 'svg' });
    chart.setOption(buildOption() as any);
    return () => chart.dispose();
  }, []);
  return <div ref={ref} style={{ position: 'absolute', left: 0, top: 0, width: 1310, height: 627 }} />;
}
